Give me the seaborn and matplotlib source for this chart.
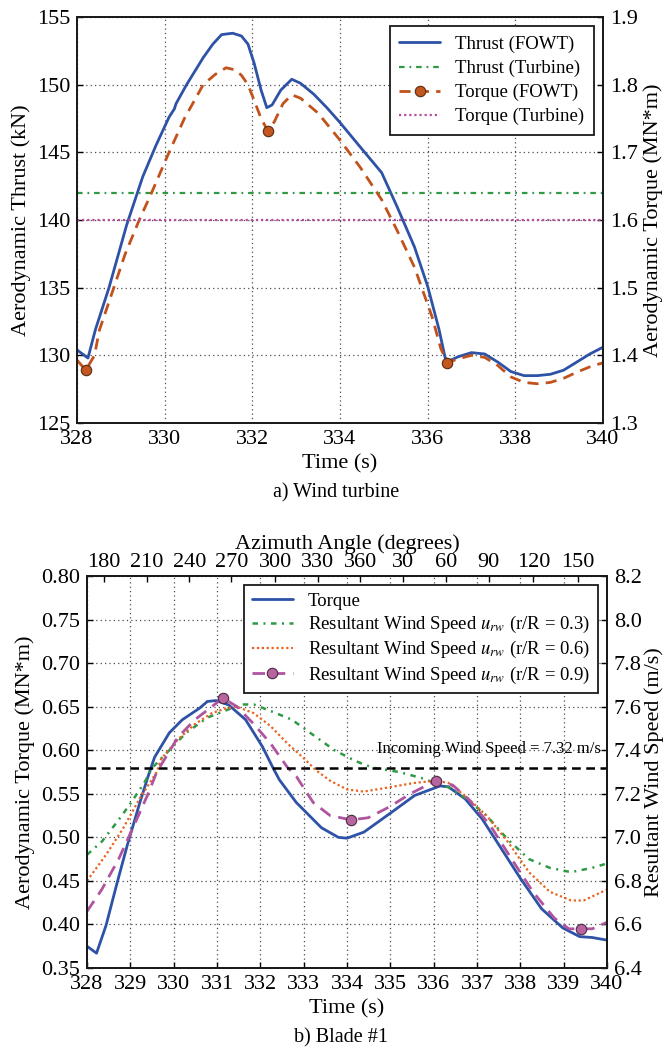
import numpy as np
import pandas as pd
import matplotlib
matplotlib.use("Agg")
import matplotlib.pyplot as plt
from matplotlib.ticker import FormatStrFormatter
import seaborn as sns

# ---------------- data: a) wind turbine ----------------
thrust_time = [328.00, 328.25, 328.42, 328.73, 329.13, 329.50, 329.80, 330.10, 330.22, 330.26,
               330.50, 330.88, 331.10, 331.30, 331.55, 331.75, 331.90, 332.04, 332.20, 332.33,
               332.45, 332.65, 332.90, 333.10, 333.40, 333.70, 334.00, 334.46, 334.95, 335.30,
               335.70, 336.00, 336.26, 336.40, 336.50, 336.70, 337.00, 337.30, 337.60, 337.90,
               338.20, 338.50, 338.80, 339.10, 339.40, 339.70, 340.00]
thrust_fowt = [130.4, 129.8, 131.9, 135.0, 139.6, 143.2, 145.5, 147.6, 148.2, 148.6,
               150.0, 152.0, 153.0, 153.7, 153.8, 153.6, 153.0, 151.6, 149.6, 148.3,
               148.5, 149.6, 150.4, 150.1, 149.3, 148.3, 147.2, 145.4, 143.5, 141.0,
               138.0, 135.1, 131.9, 129.8, 129.6, 129.9, 130.2, 130.1, 129.5, 128.8,
               128.5, 128.5, 128.6, 128.9, 129.5, 130.1, 130.6]

torque_time = [328.00, 328.20, 328.40, 328.51, 328.84, 329.10, 329.42, 329.70, 330.10, 330.45,
               330.88, 331.15, 331.40, 331.60, 331.75, 331.90, 332.04, 332.20, 332.35, 332.50,
               332.70, 332.90, 333.10, 333.50, 334.00, 334.46, 334.95, 335.30, 335.70, 336.10,
               336.30, 336.45, 336.70, 337.00, 337.30, 337.60, 337.90, 338.20, 338.50, 338.80,
               339.10, 339.40, 339.70, 340.00]
torque_fowt = [1.393, 1.378, 1.400, 1.437, 1.500, 1.550, 1.600, 1.640, 1.700, 1.750,
               1.800, 1.815, 1.825, 1.822, 1.814, 1.800, 1.777, 1.750, 1.732, 1.745,
               1.772, 1.785, 1.780, 1.758, 1.718, 1.678, 1.630, 1.585, 1.530, 1.457,
               1.410, 1.389, 1.395, 1.400, 1.397, 1.385, 1.368, 1.360, 1.358, 1.360,
               1.366, 1.375, 1.383, 1.389]
torque_marker_times = [328.20, 332.35, 336.45]

thrust_turbine = 142.0
torque_turbine = 1.60

thrust_ticks = [125, 130, 135, 140, 145, 150, 155]
torque_ticks = [1.3, 1.4, 1.5, 1.6, 1.7, 1.8, 1.9]
time_ticks_a = [328, 330, 332, 334, 336, 338, 340]

# ---------------- data: b) blade #1 ----------------
blade_torque_time = [328.00, 328.22, 328.44, 328.68, 328.93, 329.22, 329.41, 329.56, 329.90, 330.20,
                     330.59, 330.78, 330.98, 331.27, 331.66, 332.05, 332.29, 332.44, 332.83, 333.41,
                     333.80, 334.00, 334.39, 334.98, 335.56, 336.15, 336.34, 336.73, 337.12, 337.51,
                     338.00, 338.49, 338.98, 339.37, 339.66, 340.00]
blade_torque = [0.375, 0.367, 0.399, 0.445, 0.491, 0.540, 0.570, 0.592, 0.620, 0.635,
                0.648, 0.656, 0.657, 0.652, 0.635, 0.604, 0.580, 0.566, 0.540, 0.511,
                0.500, 0.499, 0.506, 0.527, 0.548, 0.559, 0.558, 0.544, 0.521, 0.491,
                0.453, 0.418, 0.396, 0.386, 0.385, 0.382]

urw03_time = [328.00, 328.34, 328.73, 329.02, 329.32, 329.51, 329.90, 330.29, 330.78, 331.17,
              331.56, 331.85, 332.24, 332.73, 333.22, 333.71, 334.20, 334.59, 335.20, 335.76,
              336.15, 336.34, 336.73, 337.22, 337.71, 338.20, 338.68, 339.17, 339.66, 340.00]
urw03 = [6.92, 6.98, 7.08, 7.16, 7.25, 7.32, 7.40, 7.48, 7.55, 7.58,
         7.61, 7.61, 7.58, 7.54, 7.47, 7.40, 7.35, 7.32, 7.30, 7.27,
         7.24, 7.23, 7.18, 7.10, 6.99, 6.90, 6.86, 6.84, 6.86, 6.88]

urw06_time = [328.00, 328.44, 328.83, 329.22, 329.61, 329.71, 330.10, 330.49, 330.88, 331.17,
              331.46, 331.85, 332.24, 332.63, 333.02, 333.27, 333.61, 334.00, 334.39, 334.98,
              335.56, 336.05, 336.34, 336.73, 337.22, 337.71, 338.20, 338.68, 339.17, 339.46,
              340.00]
urw06 = [6.80, 6.92, 7.04, 7.18, 7.30, 7.36, 7.45, 7.52, 7.57, 7.59,
         7.60, 7.57, 7.51, 7.43, 7.36, 7.31, 7.26, 7.22, 7.21, 7.23,
         7.25, 7.26, 7.25, 7.19, 7.10, 6.98, 6.84, 6.75, 6.71, 6.71,
         6.76]

urw09_time = [328.00, 328.34, 328.73, 329.12, 329.41, 329.61, 330.10, 330.49, 330.88, 331.14,
              331.46, 331.85, 332.24, 332.63, 332.83, 333.22, 333.61, 334.10, 334.49, 334.98,
              335.46, 336.05, 336.44, 336.83, 337.32, 337.80, 338.29, 338.78, 339.12, 339.41,
              339.66, 340.00]
urw09 = [6.66, 6.76, 6.90, 7.07, 7.20, 7.30, 7.46, 7.54, 7.60, 7.64,
         7.60, 7.52, 7.43, 7.32, 7.28, 7.16, 7.10, 7.08, 7.09, 7.14,
         7.20, 7.26, 7.24, 7.17, 7.05, 6.90, 6.75, 6.63, 6.58, 6.58,
         6.58, 6.61]
urw09_marker_times = [331.14, 334.10, 336.05, 339.41]

incoming_wind = 7.32

blade_torque_ticks = [0.35, 0.40, 0.45, 0.50, 0.55, 0.60, 0.65, 0.70, 0.75, 0.80]
wind_ticks = [6.4, 6.6, 6.8, 7.0, 7.2, 7.4, 7.6, 7.8, 8.0, 8.2]
time_ticks_b = [328, 329, 330, 331, 332, 333, 334, 335, 336, 337, 338, 339, 340]
azimuth_labels = ["180", "210", "240", "270", "300", "330", "360", "30", "60", "90", "120", "150"]
azimuth_times = [328.39, 329.38, 330.36, 331.33, 332.34, 333.33, 334.31, 335.30, 336.28, 337.27, 338.30, 339.32]

# ---------------- style ----------------
sns.set_theme(style="white")
plt.rcParams["font.family"] = ["Liberation Serif", "DejaVu Serif"]
plt.rcParams["mathtext.fontset"] = "stix"
plt.rcParams["axes.edgecolor"] = "0.1"
plt.rcParams["axes.linewidth"] = 1.3
plt.rcParams["text.color"] = "black"
plt.rcParams["axes.labelcolor"] = "black"
plt.rcParams["xtick.color"] = "0.1"
plt.rcParams["ytick.color"] = "0.1"

TICK_FS = 16
LABEL_FS = 16
LEG_FS = 13.5

BLUE = "#2d52a6"
ORANGE_A = "#c1521c"
GREEN = "#2e9a45"
PINK = "#b44d9c"
ORANGE_B = "#e8641e"
PURPLE = "#b054a0"

W, H = 664, 1052
fig = plt.figure(figsize=(W / 100, H / 100), dpi=100)


def style_axis(ax):
    ax.tick_params(direction="in", length=4, width=1, labelsize=TICK_FS, pad=5,
                   colors="black")
    for s in ax.spines.values():
        s.set_color("0.1")
        s.set_linewidth(1.3)


def idx_of(times, marks):
    arr = np.asarray(times)
    return [int(np.argmin(np.abs(arr - m))) for m in marks]


# ================= a) Wind turbine =================
ax1 = fig.add_axes([77 / W, 1 - 423 / H, 526 / W, 406 / H])
ax1r = ax1.twinx()

df_thrust = pd.DataFrame({"t": thrust_time, "v": thrust_fowt})
df_torque = pd.DataFrame({"t": torque_time, "v": torque_fowt})

sns.lineplot(data=df_thrust, x="t", y="v", ax=ax1, color=BLUE, lw=2.0,
             estimator=None, label="Thrust (FOWT)")
ax1.axhline(thrust_turbine, color=GREEN, lw=1.6, linestyle=(0, (2.5, 2.2, 0.8, 2.2)),
            label="Thrust (Turbine)")
sns.lineplot(data=df_torque, x="t", y="v", ax=ax1r, color=ORANGE_A, lw=2.0,
             linestyle=(0, (4, 2.6)), marker="o", markersize=7.5,
             markerfacecolor="#c4571f", markeredgecolor="#5a2a10", markeredgewidth=0.8,
             markevery=idx_of(torque_time, torque_marker_times),
             estimator=None, label="Torque (FOWT)")
ax1r.axhline(torque_turbine, color=PINK, lw=1.6, linestyle=(0, (1, 1.3)),
             label="Torque (Turbine)")

ax1.set_xlim(328, 340)
ax1.set_ylim(125, 155)
ax1r.set_ylim(1.3, 1.9)
ax1.set_xticks(time_ticks_a)
ax1.set_yticks(thrust_ticks)
ax1r.set_yticks(torque_ticks)
ax1r.yaxis.set_major_formatter(FormatStrFormatter("%.1f"))
ax1.grid(True, color="0.3", linestyle=(0, (1, 2.5)), linewidth=0.9)
ax1.set_axisbelow(True)
for a in (ax1, ax1r):
    style_axis(a)
ax1.set_xlabel("Time (s)", fontsize=LABEL_FS, labelpad=4)
ax1.set_ylabel("Aerodynamic Thrust (kN)", fontsize=LABEL_FS, labelpad=4)
ax1r.set_ylabel("Aerodynamic Torque (MN*m)", fontsize=LABEL_FS, labelpad=4)

for a in (ax1, ax1r):
    if a.get_legend() is not None:
        a.get_legend().remove()
h1, l1 = ax1.get_legend_handles_labels()
h2, l2 = ax1r.get_legend_handles_labels()
leg = ax1r.legend(h1 + h2, l1 + l2, loc="upper right", fontsize=LEG_FS, frameon=True,
                  fancybox=False, framealpha=1, edgecolor="0.1", borderpad=0.5,
                  labelspacing=0.36, handlelength=2.2, handletextpad=0.8,
                  borderaxespad=0.5, numpoints=1)
leg.get_frame().set_linewidth(1.3)

fig.text(0.506, 1 - 493 / H, "a) Wind turbine", ha="center", va="center", fontsize=14.5)

# ================= b) Blade #1 =================
ax2 = fig.add_axes([87 / W, 1 - 968 / H, 520 / W, 392 / H])
ax2r = ax2.twinx()
ax2t = ax2.twiny()

df_bt = pd.DataFrame({"t": blade_torque_time, "v": blade_torque})
df_u3 = pd.DataFrame({"t": urw03_time, "v": urw03})
df_u6 = pd.DataFrame({"t": urw06_time, "v": urw06})
df_u9 = pd.DataFrame({"t": urw09_time, "v": urw09})

sns.lineplot(data=df_bt, x="t", y="v", ax=ax2, color=BLUE, lw=2.0,
             estimator=None, label="Torque")
sns.lineplot(data=df_u3, x="t", y="v", ax=ax2r, color=GREEN, lw=1.8,
             linestyle=(0, (2.2, 2.2, 0.8, 2.2)), estimator=None,
             label=r"Resultant Wind Speed $u_{rw}$ (r/R = 0.3)")
sns.lineplot(data=df_u6, x="t", y="v", ax=ax2r, color=ORANGE_B, lw=1.6,
             linestyle=(0, (1, 1.2)), estimator=None,
             label=r"Resultant Wind Speed $u_{rw}$ (r/R = 0.6)")
sns.lineplot(data=df_u9, x="t", y="v", ax=ax2r, color=PURPLE, lw=2.0,
             linestyle=(0, (4.5, 2.8)), marker="o", markersize=7.5,
             markerfacecolor="#b8649f", markeredgecolor="#4a2a45", markeredgewidth=0.8,
             markevery=idx_of(urw09_time, urw09_marker_times), estimator=None,
             label=r"Resultant Wind Speed $u_{rw}$ (r/R = 0.9)")
ax2r.axhline(incoming_wind, color="black", lw=1.8, linestyle=(0, (3.5, 2.2)))
ax2r.text(339.85, incoming_wind + 0.05, "Incoming Wind Speed = 7.32 m/s",
          ha="right", va="bottom", fontsize=12)

ax2.set_xlim(328, 340)
ax2.set_ylim(0.35, 0.80)
ax2r.set_ylim(6.4, 8.2)
ax2.set_xticks(time_ticks_b)
ax2.set_yticks(blade_torque_ticks)
ax2r.set_yticks(wind_ticks)
ax2.yaxis.set_major_formatter(FormatStrFormatter("%.2f"))
ax2r.yaxis.set_major_formatter(FormatStrFormatter("%.1f"))
ax2.grid(True, color="0.3", linestyle=(0, (1, 2.5)), linewidth=0.9)
ax2.set_axisbelow(True)

ax2t.set_xlim(328, 340)
ax2t.set_xticks(azimuth_times)
ax2t.set_xticklabels(azimuth_labels)
for a in (ax2, ax2r, ax2t):
    style_axis(a)
ax2t.tick_params(pad=3)
ax2t.set_xlabel("Azimuth Angle (degrees)", fontsize=LABEL_FS, labelpad=3)
ax2.set_xlabel("Time (s)", fontsize=LABEL_FS, labelpad=4)
ax2.set_ylabel("Aerodynamic Torque (MN*m)", fontsize=LABEL_FS, labelpad=4)
ax2r.set_ylabel("Resultant Wind Speed (m/s)", fontsize=LABEL_FS, labelpad=1.5)

for a in (ax2, ax2r):
    if a.get_legend() is not None:
        a.get_legend().remove()
h1, l1 = ax2.get_legend_handles_labels()
h2, l2 = ax2r.get_legend_handles_labels()
leg2 = ax2r.legend(h1 + h2, l1 + l2, loc="upper right", fontsize=LEG_FS, frameon=True,
                   fancybox=False, framealpha=1, edgecolor="0.1", borderpad=0.4,
                   labelspacing=0.22, handlelength=2.2, handletextpad=0.8,
                   borderaxespad=0.5, numpoints=1)
leg2.get_frame().set_linewidth(1.3)

fig.text(0.513, 1 - 1038 / H, "b) Blade #1", ha="center", va="center", fontsize=14.5)

fig.savefig("out.png", dpi=100)
